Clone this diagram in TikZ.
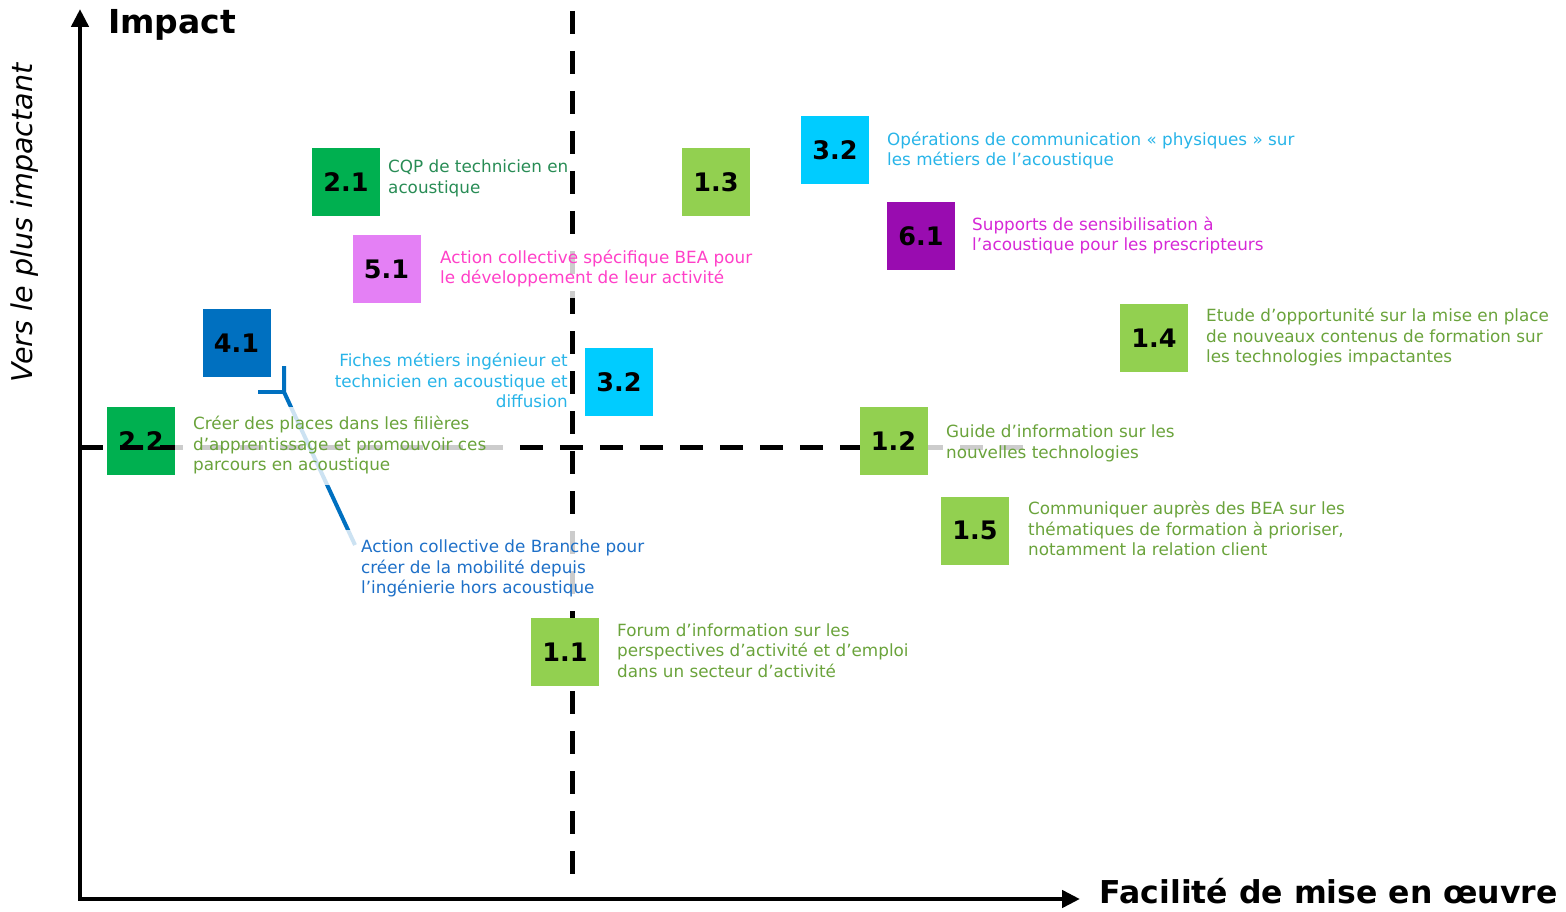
\documentclass[tikz,border=0pt]{standalone}
\usepackage{fontspec}
\setmainfont{DejaVu Sans}
\usetikzlibrary{arrows.meta}
\definecolor{cGreen}{RGB}{0,176,80}
\definecolor{cLight}{RGB}{146,208,80}
\definecolor{cCyan}{RGB}{0,204,255}
\definecolor{cBlue}{RGB}{0,112,192}
\definecolor{cPurple}{RGB}{153,12,176}
\definecolor{cViolet}{RGB}{228,128,245}
\definecolor{tGreen}{RGB}{106,163,59}
\definecolor{tDark}{RGB}{40,140,85}
\definecolor{tCyan}{RGB}{40,180,232}
\definecolor{tPink}{RGB}{255,64,200}
\definecolor{tMag}{RGB}{214,40,214}
\definecolor{tBlue}{RGB}{30,112,200}
\begin{document}
\begin{tikzpicture}[x=1pt,y=-1pt,
  numbox/.style={minimum width=68pt,minimum height=68pt,inner sep=0pt,
    font=\fontsize{25.5}{25.5}\selectfont\bfseries,text=black},
  lbl/.style={align=left,anchor=west,inner sep=0pt,font=\fontsize{16.8}{20.5}\selectfont},
  lblr/.style={align=right,anchor=east,inner sep=0pt,font=\fontsize{16.8}{20.5}\selectfont},
  bgbox/.style={fill=white,fill opacity=0.8,draw=none,inner sep=0pt},
  axis/.style={line width=4.5pt,{Triangle[length=18pt,width=17pt]}-{Triangle[length=18pt,width=17pt]}},
  quad/.style={line width=5pt,dash pattern=on 23pt off 17pt},
  conn/.style={line width=4pt,draw=cBlue}]
\useasboundingbox (0,0) rectangle (1566,912);
% box under the dashed line
\node[numbox,fill=cGreen] (b22) at (141,441) {2.2};
% axes
\coordinate (ytip) at (80,9);
\coordinate (orig) at (80,899);
\coordinate (xtip) at (1080,899);
\draw[axis] (ytip) -- (orig) -- (xtip);
\coordinate (vtop) at (572,11);
\coordinate (vbot) at (572,886);
\coordinate (hl) at (80,447);
\coordinate (hr) at (1036,447);
\draw[quad] (vtop) -- (vbot);
\draw[quad] (hl) -- (hr);
\node[anchor=west,inner sep=0pt,font=\fontsize{33}{33}\selectfont\bfseries] (impact) at (108,25) {Impact};
\node[anchor=base east,inner sep=0pt,font=\fontsize{31.5}{32}\selectfont\bfseries] (facil) at (1558,903) {Facilité de mise en œuvre};
\node[rotate=90,inner sep=0pt,font=\fontsize{28.6}{28.6}\selectfont\itshape] (vers) at (25,223) {Vers le plus impactant};
% connector of 4.1
\coordinate (c1) at (284,366);
\coordinate (c2) at (284,392);
\coordinate (c3) at (258,392);
\coordinate (c4) at (355,545);
\draw[conn] (c1) -- (c2) -- (c4);
\draw[conn] (c3) -- (c2);
% boxes
\node[numbox,fill=cGreen] (b21) at (346,182) {2.1};
\node[numbox,fill=cLight] (b13) at (716,182.5) {1.3};
\node[numbox,fill=cViolet] (b51) at (386.5,269) {5.1};
\node[numbox,fill=cCyan] (b32a) at (835,150) {3.2};
\node[numbox,fill=cPurple] (b61) at (921,236) {6.1};
\node[numbox,fill=cLight] (b14) at (1154,338) {1.4};
\node[numbox,fill=cBlue] (b41) at (236.5,343) {4.1};
\node[numbox,fill=cCyan] (b32b) at (619,382) {3.2};
\node[numbox,fill=cLight] (b12) at (893.5,441) {1.2};
\node[numbox,fill=cLight] (b15) at (975,530.5) {1.5};
\node[numbox,fill=cLight] (b11) at (565,652) {1.1};
% label backgrounds
\node[bgbox,minimum width=356pt,minimum height=58pt] (bg51) at (599,268.5) {};
\node[bgbox,minimum width=342pt,minimum height=78pt] (bg22) at (346,446) {};
\node[bgbox,minimum width=341pt,minimum height=58pt] (bg12) at (1098.5,443.5) {};
\node[bgbox,minimum width=341pt,minimum height=77pt] (bg41) at (514.5,568.5) {};
% labels
\node[lbl,text=tDark] (l21) at (388,178.5) {CQP de technicien en\\acoustique};
\node[lbl,text=tPink] (l51) at (440,268.5) {Action collective spécifique BEA pour\\le développement de leur activité};
\node[lbl,text=tCyan] (l32a) at (887,150.5) {Opérations de communication « physiques » sur\\les métiers de l’acoustique};
\node[lbl,text=tMag] (l61) at (972,235.5) {Supports de sensibilisation à\\l’acoustique pour les prescripteurs};
\node[lbl,text=tGreen] (l14) at (1206,337.5) {Etude d’opportunité sur la mise en place\\de nouveaux contenus de formation sur\\les technologies impactantes};
\node[lblr,text=tCyan] (l32b) at (568,380.5) {Fiches métiers ingénieur et\\technicien en acoustique et\\diffusion};
\node[lbl,text=tGreen] (l22) at (193,445.5) {Créer des places dans les filières\\d’apprentissage et promouvoir ces\\parcours en acoustique};
\node[lbl,text=tGreen] (l12) at (946,443.5) {Guide d’information sur les\\nouvelles technologies};
\node[lbl,text=tGreen] (l15) at (1028,528.5) {Communiquer auprès des BEA sur les\\thématiques de formation à prioriser,\\notamment la relation client};
\node[lbl,text=tGreen] (l11) at (617,650.5) {Forum d’information sur les\\perspectives d’activité et d’emploi\\dans un secteur d’activité};
\node[lbl,text=tBlue] (l41) at (361,568.5) {Action collective de Branche pour\\créer de la mobilité depuis\\l’ingénierie hors acoustique};
\end{tikzpicture}
\end{document}
